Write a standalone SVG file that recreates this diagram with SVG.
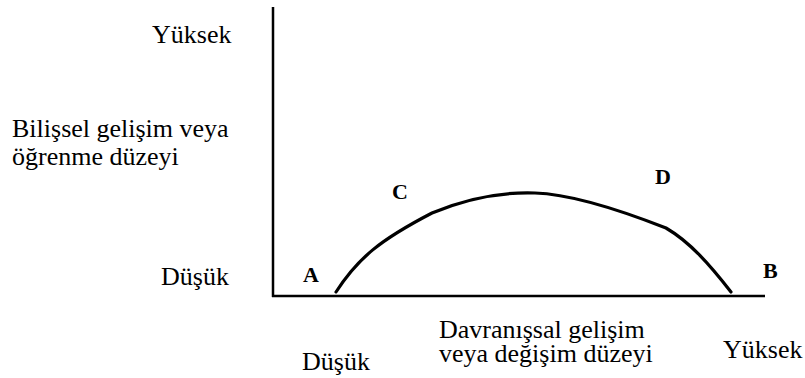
<svg xmlns="http://www.w3.org/2000/svg" width="805" height="378" viewBox="0 0 805 378">
<style>
text{fill:#000;font-family:"Liberation Serif","DejaVu Serif",serif}
.t{font-size:26px;font-weight:normal;font-style:normal}
.b{font-size:22px;font-weight:bold}
.ax{stroke:#000;stroke-width:2.5;fill:none}
.cv{stroke:#000;stroke-width:3.2;fill:none;stroke-linecap:round}
</style>
<rect width="805" height="378" fill="#fff"/>
<g id="axes">
<line class="ax" x1="273" y1="7" x2="273" y2="297"/>
<line class="ax" x1="272" y1="296" x2="765" y2="296"/>
</g>
<g id="connectors">
<path class="cv" d="M336,292 C358,258 380,240 432,213 C470,197 505,192 535,193 C570,194 620,210 666,228 C690,242 710,265 731,292"/>
</g>
<g id="y-labels">
<text class="t" x="152" y="43">Yüksek</text>
<text class="t" x="12" y="137">Bilişsel gelişim veya</text>
<text class="t" x="12" y="165">öğrenme düzeyi</text>
<text class="t" x="161" y="285">Düşük</text>
</g>
<g id="x-labels">
<text class="t" x="302" y="370">Düşük</text>
<text class="t" x="439" y="338">Davranışsal gelişim</text>
<text class="t" x="439" y="362">veya değişim düzeyi</text>
<text class="t" x="723" y="358">Yüksek</text>
</g>
<g id="points">
<text class="b" x="303" y="282">A</text>
<text class="b" x="763" y="278">B</text>
<text class="b" x="392" y="199">C</text>
<text class="b" x="655" y="184">D</text>
</g>
</svg>
